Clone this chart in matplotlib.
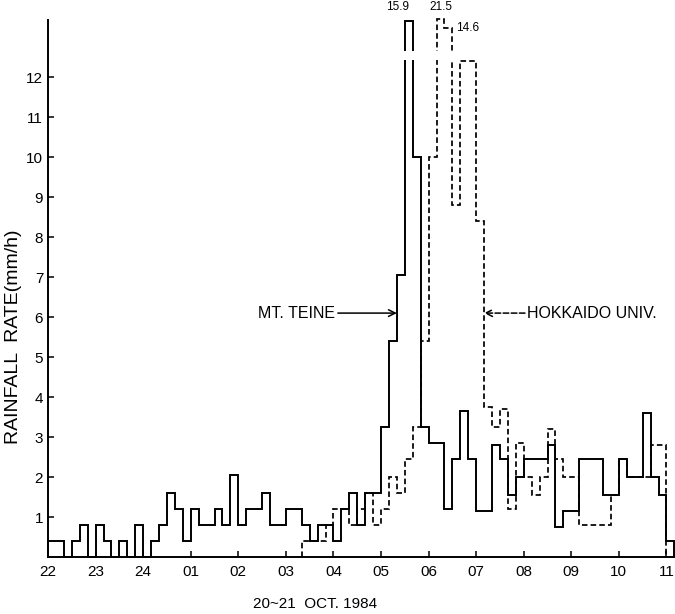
import numpy as np
import matplotlib.pyplot as plt

plt.rcParams['font.family'] = ['Liberation Sans', 'DejaVu Sans']

# 10-min rainfall rate (mm/h), 20-21 Oct. 1984, starting 22:00
STEP = 10 / 60  # hours per bin

teine = [0.4, 0.4, 0, 0.4, 0.8, 0, 0.8, 0.4, 0, 0.4, 0, 0.8,
         0, 0.4, 0.8, 1.6, 1.2, 0.4, 1.2, 0.8, 0.8, 1.2, 0.8, 2.05,
         0.8, 1.2, 1.2, 1.6, 0.8, 0.8, 1.2, 1.2, 0.8, 0.4, 0.8, 0.8,
         0.4, 1.2, 1.6, 0.8, 1.6, 1.6, 3.25, 5.4, 7.05, 15.9, 10.0, 3.25,
         2.85, 2.85, 1.2, 2.45, 3.65, 2.45, 1.15, 1.15, 2.8, 2.45, 1.55, 2.0,
         2.45, 2.45, 2.45, 2.8, 0.75, 1.15, 1.15, 2.45, 2.45, 2.45, 1.55, 1.55,
         2.45, 2.0, 2.0, 3.6, 2.0, 1.55, 0.4]

hokudai_start = 32  # first bin of the Hokkaido Univ. record (03:20)
hokudai = [0.4, 0.4, 0.4, 0.8, 1.2, 1.2, 0.8, 1.2, 1.6, 0.8, 1.2, 2.0,
           1.6, 2.45, 3.25, 5.4, 10.0, 21.5, 14.6, 8.8, 12.4, 12.4, 8.4, 3.75,
           3.25, 3.7, 1.2, 2.85, 2.0, 1.55, 2.0, 3.2, 2.45, 2.0, 2.0, 0.8,
           0.8, 0.8, 0.8, 1.55, 2.45, 2.0, 2.0, 2.0, 2.8, 2.8]

hour_labels = ['22', '23', '24', '01', '02', '03', '04', '05', '06',
               '07', '08', '09', '10', '11']
y_ticks = list(range(1, 13))

YTOP = 13.43
BREAK = (12.42, 12.66)


def squeeze(v):
    # values above 13 are drawn compressed above a break
    v = np.asarray(v, float)
    return np.where(v > 13, np.minimum(13 + 0.14 * (v - 13), YTOP + 0.02), v)


fig = plt.figure(figsize=(6.75, 6.14), dpi=100)
ax = fig.add_axes([48 / 675, 57 / 614, 627 / 675, 537 / 614])

t_edges = np.arange(len(teine) + 1) * STEP
h_edges = (hokudai_start + np.arange(len(hokudai) + 1)) * STEP

ax.stairs(squeeze(teine), t_edges, baseline=0, color='black', lw=1.4,
          clip_on=False, zorder=3)
ax.stairs(squeeze(hokudai), h_edges, baseline=0, color='black', lw=1.25,
          ls=(0, (3.2, 1.8)), clip_on=False, zorder=3)

# breaks in the bars that run off the top, with their true values
pad = 0.03
for vals, edges in ((teine, t_edges), (hokudai, h_edges)):
    for i, v in enumerate(vals):
        if v > 13:
            ax.fill_between([edges[i] - pad, edges[i + 1] + pad], BREAK[0], BREAK[1],
                            color='white', lw=0, zorder=4)

i = teine.index(max(teine))
ax.annotate(f'{teine[i]:.1f}', (t_edges[i] + STEP / 2, YTOP), xytext=(-8, 5),
            textcoords='offset points', ha='center', va='bottom', fontsize=8.5,
            annotation_clip=False)
j = hokudai.index(max(hokudai))
ax.annotate(f'{hokudai[j]:.1f}', (h_edges[j] + STEP / 2, YTOP), xytext=(0, 5),
            textcoords='offset points', ha='center', va='bottom', fontsize=8.5,
            annotation_clip=False)
ax.annotate(f'{hokudai[j + 1]:.1f}', (h_edges[j + 2], squeeze(hokudai[j + 1])),
            xytext=(2.5, 0), textcoords='offset points', ha='left', va='center',
            fontsize=8.5, annotation_clip=False)

# station labels
tip_t = t_edges[44]
ax.annotate('', xy=(tip_t, 6.1), xytext=(tip_t - 1.24, 6.1),
            arrowprops=dict(arrowstyle='->', lw=1.1, color='black',
                            shrinkA=0, shrinkB=0, mutation_scale=12))
ax.text(tip_t - 1.29, 6.1, 'MT. TEINE', ha='right', va='center', fontsize=11.5)

tip_h = h_edges[55 - hokudai_start]
ax.annotate('', xy=(tip_h, 6.1), xytext=(tip_h + 0.86, 6.1),
            arrowprops=dict(arrowstyle='->', lw=1.1, color='black', ls='--',
                            shrinkA=0, shrinkB=0, mutation_scale=12))
ax.text(tip_h + 0.9, 6.1, 'HOKKAIDO UNIV.', ha='left', va='center', fontsize=11.5)

ax.set_xlim(0, 13.18)
ax.set_ylim(0, YTOP)
ax.set_xticks(np.arange(len(hour_labels)))
ax.set_xticklabels(hour_labels)
ax.set_yticks(y_ticks)
ax.tick_params(direction='in', length=4, width=1.1, labelsize=11)
ax.tick_params(axis='x', pad=6)
for s in ('top', 'right'):
    ax.spines[s].set_visible(False)
for s in ('left', 'bottom'):
    ax.spines[s].set_linewidth(1.4)

ax.set_xlabel('20~21  OCT. 1984', fontsize=11)
ax.xaxis.set_label_coords(0.426, -0.075)
ax.set_ylabel('RAINFALL  RATE(mm/h)', fontsize=14)
ax.yaxis.set_label_coords(-0.042, 0.41)

fig.savefig('out.png', dpi=100)
